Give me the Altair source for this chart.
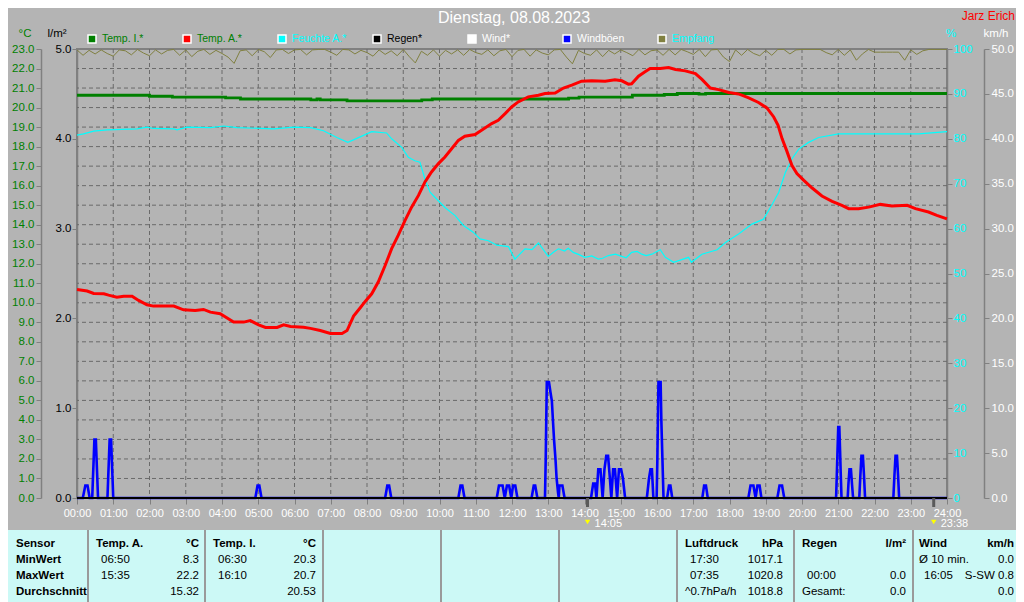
import altair as alt
import pandas as pd

# ---------------- data ----------------
title_text = "Dienstag, 08.08.2023"
author_text = "Jarz Erich"

hour_ticks = list(range(0, 25))
grid_hours = list(range(1, 24))
grid_temps = list(range(1, 23))
temp_ticks = list(range(0, 24))
rain_ticks = [0, 1, 2, 3, 4, 5]
hum_ticks = [0, 10, 20, 30, 40, 50, 60, 70, 80, 90, 100]
wind_ticks = [0, 5, 10, 15, 20, 25, 30, 35, 40, 45, 50]

# Temp. A. (°C)
ta_t = [0, 0.28, 0.46, 0.74, 0.87, 1.10, 1.29, 1.52, 1.70, 1.93, 2.11, 2.67, 2.94, 3.26, 3.49, 3.68,
        3.95, 4.32, 4.60, 4.78, 5.01, 5.20, 5.52, 5.70, 5.89, 6.25, 6.44, 6.71, 6.99, 7.31, 7.45, 7.63,
        7.82, 7.95, 8.13, 8.31, 8.50, 8.68, 8.86, 9.05, 9.23, 9.42, 9.60, 9.78, 9.97, 10.15, 10.34,
        10.52, 10.70, 10.98, 11.16, 11.44, 11.62, 11.81, 11.99, 12.17, 12.45, 12.73, 12.91, 13.19,
        13.42, 13.65, 13.92, 14.20, 14.57, 14.84, 15.03, 15.21, 15.30, 15.49, 15.67, 15.81, 16.09,
        16.32, 16.51, 16.78, 17.06, 17.24, 17.47, 17.70, 17.98, 18.25, 18.53, 18.80, 19.03, 19.22,
        19.34, 19.45, 19.59, 19.72, 19.86, 20.05, 20.28, 20.55, 20.83, 21.10, 21.29, 21.56, 21.84,
        22.16, 22.48, 22.90, 23.13, 23.49, 23.72, 24.0]
ta_v = [10.68, 10.60, 10.48, 10.46, 10.39, 10.29, 10.34, 10.34, 10.12, 9.90, 9.83, 9.83, 9.64, 9.60,
        9.66, 9.52, 9.44, 9.01, 9.01, 9.09, 8.87, 8.74, 8.74, 8.87, 8.79, 8.75, 8.69, 8.58, 8.43, 8.43,
        8.58, 9.32, 9.76, 10.07, 10.46, 11.06, 11.91, 12.77, 13.45, 14.22, 14.90, 15.50, 16.19, 16.70,
        17.13, 17.47, 17.90, 18.32, 18.53, 18.62, 18.84, 19.18, 19.35, 19.69, 20.03, 20.29, 20.55,
        20.63, 20.72, 20.75, 21.00, 21.15, 21.35, 21.37, 21.35, 21.42, 21.37, 21.20, 21.22, 21.61,
        21.83, 22.00, 22.00, 22.05, 21.95, 21.88, 21.74, 21.44, 21.00, 20.92, 20.77, 20.70, 20.50,
        20.26, 19.98, 19.52, 19.09, 18.41, 17.73, 17.04, 16.62, 16.27, 15.88, 15.47, 15.20, 14.99,
        14.82, 14.82, 14.90, 15.04, 14.96, 14.99, 14.82, 14.65, 14.48, 14.30]

# Temp. I. (°C), stepwise
ti_t = [0, 2.0, 2.63, 4.1, 4.51, 6.45, 6.62, 6.71, 7.45, 9.51, 9.8, 13.56, 13.85, 15.32, 16.2, 16.56,
        17.16, 17.34, 24]
ti_v = [20.63, 20.58, 20.53, 20.5, 20.44, 20.39, 20.44, 20.39, 20.34, 20.39, 20.44, 20.48, 20.53,
        20.63, 20.67, 20.72, 20.69, 20.72, 20.72]

# Feuchte A. (%)
hu_t = [0, 0.18, 0.46, 0.83, 1.66, 1.93, 2.11, 2.67, 2.76, 3.03, 3.68, 4.05, 4.41, 5.43, 5.98, 6.44,
        6.80, 7.17, 7.47, 7.72, 8.13, 8.54, 8.68, 8.96, 9.14, 9.32, 9.46, 9.60, 9.74, 9.92, 10.15,
        10.43, 10.66, 10.93, 11.12, 11.35, 11.58, 11.90, 12.08, 12.36, 12.55, 12.73, 13.00, 13.15,
        13.28, 13.45, 13.55, 13.69, 13.85, 14.01, 14.20, 14.38, 14.50, 14.66, 14.85, 15.03, 15.15,
        15.30, 15.45, 15.58, 15.70, 15.86, 16.09, 16.23, 16.46, 16.87, 16.95, 17.24, 17.66, 17.89,
        18.25, 18.62, 18.94, 19.17, 19.36, 19.54, 19.72, 19.91, 20.18, 20.46, 21.01, 22.30, 23.22, 24.0]
hu_v = [80.8, 81.1, 81.7, 82.0, 82.2, 82.6, 82.3, 82.2, 82.0, 82.6, 82.5, 82.85, 82.5, 82.2, 82.6,
        82.5, 81.8, 80.3, 79.2, 80.1, 81.6, 81.3, 80.0, 78.1, 75.9, 75.1, 74.8, 71.0, 68.1, 66.6,
        64.7, 62.9, 60.7, 59.2, 57.7, 57.3, 56.3, 56.0, 53.2, 55.5, 55.3, 56.8, 53.8, 54.8, 55.5,
        55.0, 55.6, 54.7, 54.2, 53.6, 53.9, 53.2, 53.4, 54.0, 54.3, 53.8, 53.5, 54.7, 54.9, 54.3,
        54.0, 54.3, 55.3, 53.6, 52.5, 53.6, 52.5, 54.3, 55.3, 56.9, 58.8, 61.0, 62.1, 65.3, 68.1,
        72.5, 75.5, 77.7, 79.2, 80.3, 81.1, 81.1, 81.1, 81.6]

# Empfang (%), one value per 10 minutes
emp_v = [99.8, 98.6, 99.7, 98.9, 99.8, 99.0, 98.4, 99.8, 99.6, 98.7, 99.9, 99.1,
         98.5, 99.8, 98.9, 99.7, 99.9, 98.6, 99.8, 98.3, 99.5, 99.9, 98.8, 99.7,
         99.0, 98.2, 96.8, 99.6, 99.8, 98.5, 99.9, 99.4, 98.1, 99.8, 99.9, 99.0,
         99.8, 99.9, 98.7, 99.8, 99.9, 99.9, 99.3, 98.6, 99.9, 99.8, 98.9, 99.7,
         99.2, 98.4, 99.8, 98.8, 99.6, 98.5, 99.9, 98.3, 96.9, 99.5, 98.6, 99.8,
         98.4, 99.7, 98.9, 99.8, 98.6, 99.9, 99.2, 98.8, 99.8, 98.5, 99.6, 99.9,
         98.3, 99.7, 99.9, 98.4, 99.8, 99.1, 98.7, 99.8, 99.9, 98.2, 96.7, 99.7,
         99.0, 98.6, 99.8, 98.3, 99.7, 98.9, 99.8, 99.2, 98.5, 99.9, 98.7, 99.6,
         99.8, 98.6, 99.9, 98.7, 99.9, 99.4, 98.8, 99.9, 98.3, 99.8, 99.9, 98.2,
         97.2, 99.8, 98.6, 99.9, 99.0, 98.5, 99.7, 98.6, 99.9, 99.9, 98.9, 99.8,
         99.9, 99.9, 99.9, 99.9, 99.2, 98.7, 99.9, 98.6, 99.8, 97.5, 98.9, 99.9,
         99.3, 99.3, 99.3, 99.3, 99.3, 97.5, 99.8, 98.8, 99.6, 99.9, 99.9, 99.9, 99.9]

# Windböen (km/h)
wind_t = [0.0,
          0.16, 0.23, 0.29, 0.35,
          0.42, 0.44, 0.46, 0.48, 0.52, 0.54, 0.56, 0.58,
          0.84, 0.86, 0.88, 0.90, 0.94, 0.96, 0.98, 1.00,
          4.92, 4.98, 5.03, 5.09,
          8.50, 8.56, 8.61, 8.67,
          10.52, 10.58, 10.63, 10.69,
          11.58, 11.64, 11.74, 11.80, 11.86, 11.92, 11.98, 12.03, 12.09, 12.15,
          12.54, 12.60, 12.64, 12.70,
          12.91, 12.93, 12.96, 13.02, 13.06, 13.10, 13.13, 13.16, 13.20, 13.23, 13.27, 13.29, 13.31, 13.39, 13.45,
          14.18, 14.24, 14.29, 14.33, 14.38, 14.44, 14.50, 14.55, 14.60, 14.65, 14.70, 14.74, 14.79, 14.84, 14.90, 14.95, 15.01, 15.06, 15.12,
          15.72, 15.78, 15.82, 15.86, 15.90,
          15.99, 16.01, 16.04, 16.10, 16.12, 16.15, 16.18,
          16.28, 16.33, 16.37, 16.42,
          17.25, 17.30, 17.35, 17.40,
          18.52, 18.58, 18.66, 18.72, 18.77, 18.83, 18.88,
          19.32, 19.38, 19.45, 19.51,
          20.94, 20.96, 20.98, 21.00, 21.03, 21.05, 21.07, 21.09,
          21.26, 21.28, 21.31, 21.35, 21.38, 21.41,
          21.58, 21.61, 21.64, 21.68, 21.71, 21.74,
          22.52, 22.55, 22.58, 22.62, 22.65, 22.68,
          24.0]
wind_v = [0,
          0, 1.4, 1.4, 0,
          0, 2.2, 4.3, 6.5, 6.5, 4.3, 2.2, 0,
          0, 2.2, 4.3, 6.5, 6.5, 4.3, 2.2, 0,
          0, 1.4, 1.4, 0,
          0, 1.4, 1.4, 0,
          0, 1.4, 1.4, 0,
          0, 1.4, 1.4, 0, 1.4, 1.4, 0, 1.4, 1.4, 0,
          0, 1.4, 1.4, 0,
          0, 4.3, 12.9, 12.9, 11.8, 10.8, 8.6, 6.5, 4.3, 2.2, 0.6, 0, 1.4, 1.4, 0,
          0, 1.6, 1.6, 0, 3.2, 3.2, 0, 3.2, 4.7, 4.7, 2.2, 0, 3.2, 3.2, 0, 3.2, 3.2, 2.2, 0,
          0, 2.2, 3.2, 3.2, 0,
          0, 4.3, 12.9, 12.9, 8.6, 4.3, 0,
          0, 1.4, 1.4, 0,
          0, 1.4, 1.4, 0,
          0, 1.4, 1.4, 0, 1.4, 1.4, 0,
          0, 1.4, 1.4, 0,
          0, 2.5, 5.3, 7.9, 7.9, 5.3, 2.5, 0,
          0, 1.5, 3.2, 3.2, 1.5, 0,
          0, 2.5, 4.7, 4.7, 2.5, 0,
          0, 2.5, 4.7, 4.7, 2.5, 0,
          0]

# Regen (l/m²)
rain_t = [0, 24]
rain_v = [0.0, 0.0]

# time markers
marker_h = [14 + 5 / 60, 23 + 38 / 60]
marker_lab = ["14:05", "23:38"]

# legend
leg_labels = ["Temp. I.*", "Temp. A.*", "Feuchte A.*", "Regen*", "Wind*", "Windböen", "Empfang"]
leg_colors = ["#008000", "#ff0000", "#00ffff", "#000000", "#ffffff", "#0000ff", "#808040"]
leg_text_colors = ["#008000", "#008000", "#00ffff", "#000000", "#ffffff", "#ffffff", "#00ffff"]

# statistics table
row_labels = ["Sensor", "MinWert", "MaxWert", "Durchschnitt"]
grp_heads = ["Temp. A.", "Temp. I.", "Luftdruck", "Regen", "Wind"]
grp_units = ["°C", "°C", "hPa", "l/m²", "km/h"]
grp_left = [["06:50", "15:35", ""], ["06:30", "16:10", ""], ["17:30", "07:35", "^0.7hPa/h"],
            ["", "00:00", "Gesamt:"], ["Ø 10 min.", "16:05", ""]]
grp_right = [["8.3", "22.2", "15.32"], ["20.3", "20.7", "20.53"], ["1017.1", "1020.8", "1018.8"],
             ["", "0.0", "0.0"], ["0.0", "S-SW 0.8", "0.0"]]

# ---------------- style / layout ----------------
FONT = "Liberation Sans"
BG = "#b4b4b4"
AX = "#808080"
GRIDC = "#6a6a6a"
W, H = 870, 449

xscale = alt.Scale(domain=[0, 24], nice=False, zero=False)
xaxis = alt.Axis(values=hour_ticks,
                 labelExpr="(datum.value < 10 ? '0' : '') + datum.value + ':00'",
                 labelColor="white", labelFont=FONT, labelFontSize=11, tickColor=AX, tickSize=6,
                 domain=False, grid=False, title=None, labelPadding=3, labelFlush=False,
                 labelOverlap=False)


def X():
    return alt.X("h:Q", scale=xscale, axis=xaxis)


def yaxis(orient, offset, values, fmt, color, pad):
    return alt.Axis(orient=orient, offset=offset, values=values, format=fmt, labelColor=color,
                    labelFont=FONT, labelFontSize=11.5, tickColor=AX, tickSize=5, tickWidth=1,
                    domainColor=AX, domainWidth=1.5, labelPadding=pad, grid=False, title=None,
                    labelFlush=False, labelOverlap=False)


def Y(domain, axis=None):
    return alt.Y("v:Q", scale=alt.Scale(domain=domain, nice=False, zero=False),
                 axis=axis)


def frame(t, v):
    return pd.DataFrame({"h": t, "v": v})


# gridlines (+ °C axis)
hgrid = alt.Chart(pd.DataFrame({"v": grid_temps})).mark_rule(
    color=GRIDC, strokeDash=[4, 3], strokeWidth=1).encode(
    y=Y([0, 23], yaxis("left", 36, temp_ticks, ".1f", "#008000", 2)))
vgrid = alt.Chart(pd.DataFrame({"h": grid_hours})).mark_rule(
    color=GRIDC, strokeDash=[4, 3], strokeWidth=1).encode(x=X())

emp_line = alt.Chart(frame([i / 6 for i in range(len(emp_v))], emp_v)).mark_line(
    color="#808040", strokeWidth=1).encode(x=X(), y=Y([0, 100]))
hum_line = alt.Chart(frame(hu_t, hu_v)).mark_line(color="#00ffff", strokeWidth=1.2).encode(
    x=X(), y=Y([0, 100], yaxis("right", 0, hum_ticks, "d", "#00ffff", 1)))
ti_line = alt.Chart(frame(ti_t, ti_v)).mark_line(
    color="#008000", strokeWidth=2.8, interpolate="step-after").encode(x=X(), y=Y([0, 23]))
ta_line = alt.Chart(frame(ta_t, ta_v)).mark_line(color="#ff0000", strokeWidth=3).encode(
    x=X(), y=Y([0, 23]))
wind_line = alt.Chart(frame(wind_t, wind_v)).mark_line(color="#0000ff", strokeWidth=2.6).encode(
    x=X(), y=Y([0, 50], yaxis("right", 37, wind_ticks, ".1f", "white", 2)))
rain_line = alt.Chart(frame(rain_t, rain_v)).mark_line(color="black", strokeWidth=2).encode(
    x=X(), y=Y([0, 5], yaxis("left", 0, rain_ticks, ".1f", "black", 1)))

# markers under the time axis
mk = pd.DataFrame({"h": marker_h, "lab": marker_lab})
mk_tick = alt.Chart(mk).mark_rule(color="#5a5a5a", strokeWidth=3).encode(
    x=X(), y=alt.value(449), y2=alt.value(458))
mk_icon = alt.Chart(mk).mark_point(shape="triangle-down", filled=True, color="#ffff00",
                                   size=30, opacity=1).encode(x=X(), y=alt.value(473))
mk_text = alt.Chart(mk).mark_text(align="left", baseline="middle", dx=7, font=FONT,
                                  fontSize=11, color="white").encode(
    x=X(), y=alt.value(475), text="lab:N")


def label(text, px, py, color, size=11, align="left", weight="normal"):
    return alt.Chart(pd.DataFrame({"t": [text]})).mark_text(
        align=align, baseline="middle", font=FONT, fontSize=size, fontWeight=weight,
        color=color).encode(x=alt.value(px), y=alt.value(py), text="t:N")


title_l = label(title_text, 437, -31, "white", size=16, align="center")
author_l = label(author_text, 938, -33, "#ff0000", size=12, align="right")
unit_c = label("°C", -52, -15, "#008000", size=11.5, align="center")
unit_r = label("l/m²", -20, -15, "black", size=11.5, align="center")
unit_p = label("%", 874, -15, "#00ffff", size=11.5, align="center")
unit_w = label("km/h", 919, -15, "white", size=11.5, align="center")

# legend
leg = pd.DataFrame({"lab": leg_labels, "c": leg_colors, "tc": leg_text_colors})
leg["sx"] = [15 + 95 * i for i in range(len(leg))]
leg["tx"] = [25 + 95 * i for i in range(len(leg))]
leg["py"] = -10
leg_sq = alt.Chart(leg).mark_square(size=64, filled=True, stroke="white", strokeWidth=1.5,
                                    opacity=1).encode(
    x=alt.X("sx:Q", scale=None, axis=None), y=alt.Y("py:Q", scale=None, axis=None),
    fill=alt.Fill("c:N", scale=None))
leg_tx = alt.Chart(leg).mark_text(align="left", baseline="middle", font=FONT,
                                  fontSize=10.5).encode(
    x=alt.X("tx:Q", scale=None, axis=None), y=alt.Y("py:Q", scale=None, axis=None),
    text="lab:N", color=alt.Color("tc:N", scale=None))

# table
TAB_TOP, TAB_BOT = 481, 560
sep_x = [11, 128, 246, 364, 482, 600, 717, 836]
head_x = [19, 136, 608, 725, 842]
right_x = [122, 239, 706, 829, 937]
row_y = [495, 511, 527, 543]
cells = []
for r, txt in enumerate(row_labels):
    cells.append((txt, -61, row_y[r], "left", True))
for g in range(len(grp_heads)):
    cells.append((grp_heads[g], head_x[g], row_y[0], "left", True))
    cells.append((grp_units[g], right_x[g], row_y[0], "right", True))
    for r in range(3):
        s = grp_left[g][r]
        indent = 5 if (len(s) == 5 and s[2] == ":") else 0
        cells.append((s, head_x[g] + indent, row_y[r + 1], "left", False))
        cells.append((grp_right[g][r], right_x[g], row_y[r + 1], "right", False))
cells_df = pd.DataFrame(cells, columns=["t", "px", "py", "al", "b"])

tab_bg = alt.Chart(pd.DataFrame({"a": [0]})).mark_rect(color="#ccf9f6").encode(
    x=alt.value(-69), x2=alt.value(939), y=alt.value(TAB_TOP), y2=alt.value(TAB_BOT))
tab_sep = alt.Chart(pd.DataFrame({"px": sep_x})).mark_rule(color="#9a9a9a", strokeWidth=2).encode(
    x=alt.X("px:Q", scale=None, axis=None), y=alt.value(TAB_TOP), y2=alt.value(TAB_BOT))


def cell_layer(align, bold):
    sub = cells_df[(cells_df["al"] == align) & (cells_df["b"] == bold)][["t", "px", "py"]]
    return alt.Chart(sub).mark_text(align=align, baseline="middle", font=FONT, fontSize=11.5,
                                    fontWeight="bold" if bold else "normal",
                                    color="black").encode(
        x=alt.X("px:Q", scale=None, axis=None), y=alt.Y("py:Q", scale=None, axis=None),
        text="t:N")


chart = alt.layer(
    hgrid, vgrid, emp_line, hum_line, ti_line, ta_line, wind_line, rain_line,
    mk_tick, mk_icon, mk_text,
    title_l, author_l, unit_c, unit_r, unit_p, unit_w, leg_sq, leg_tx,
    tab_bg, tab_sep,
    cell_layer("left", True), cell_layer("right", True),
    cell_layer("left", False), cell_layer("right", False),
).resolve_scale(y="independent").resolve_axis(y="independent").properties(
    width=W, height=H,
    autosize=alt.AutoSizeParams(type="none"),
    padding={"left": 69, "top": 41, "right": 69, "bottom": 104},
).configure(background=BG, font=FONT).configure_view(stroke=AX, strokeWidth=2)

chart.save("out.html", embed_options={"renderer": "svg", "actions": False})
